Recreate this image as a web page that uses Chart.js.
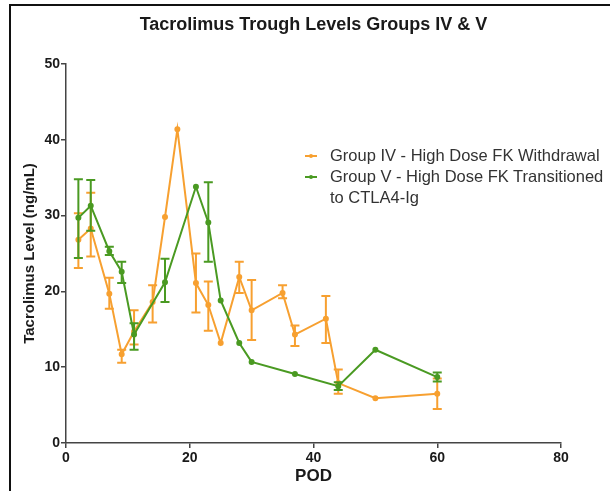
<!DOCTYPE html>
<html>
<head>
<meta charset="utf-8">
<script src="https://cdn.jsdelivr.net/npm/chart.js@4.4.1/dist/chart.umd.min.js"></script>
<style>
  html, body { margin: 0; padding: 0; background: #fff; }
  #wrap { position: relative; width: 610px; height: 491px; overflow: hidden; }
  #frame { position: absolute; left: 9px; top: 4px; width: 620px; height: 500px;
           border-left: 2px solid #111; border-top: 2px solid #111; pointer-events: none; }
  canvas { position: absolute; left: 0; top: 0; }
  #legend { position: absolute; left: 305px; top: 145px; font-family: "Liberation Sans", Arial, sans-serif;
            font-size: 16.5px; line-height: 21px; color: #333; }
  .row { position: relative; padding-left: 25px; white-space: nowrap; }
  .mk { position: absolute; left: 0; top: 10px; width: 12px; height: 2px; }
  .dot { position: absolute; left: 4px; top: -1px; width: 4px; height: 4px; border-radius: 50%; }
</style>
</head>
<body>
<div id="wrap">
  <canvas id="c" width="610" height="491"></canvas>
  <div id="frame"></div>
  <div id="legend">
    <div class="row"><span class="mk" style="background:#F7A030"><span class="dot" style="background:#F7A030"></span></span>Group IV - High Dose FK Withdrawal</div>
    <div class="row"><span class="mk" style="background:#4A9A22"><span class="dot" style="background:#4A9A22"></span></span>Group V - High Dose FK Transitioned<br>to CTLA4-Ig</div>
  </div>
</div>
<script>
// ---- Data ----
const titleText = "Tacrolimus Trough Levels Groups IV & V";
const xTitle = "POD";
const yTitle = "Tacrolimus Level (ng/mL)";
const xTicks = [0, 20, 40, 60, 80];
const yTicks = [0, 10, 20, 30, 40, 50];

const seriesNames = ["Group IV - High Dose FK Withdrawal", "Group V - High Dose FK Transitioned to CTLA4-Ig"];

const podIV   = [2, 4, 7, 9, 11, 14, 16, 18, 21, 23, 25, 28, 30, 35, 37, 42, 44, 50, 60];
const levelIV = [26.8, 28.3, 19.7, 11.7, 14.7, 18.6, 29.8, 41.4, 21.1, 18.2, 13.2, 21.9, 17.5, 19.8, 14.3, 16.4, 7.9, 5.9, 6.5];
const upperIV = [30.3, 33.0, 21.8, 12.3, 17.5, 20.8, null, null, 25.0, 21.3, null, 23.9, 21.5, 20.8, 15.5, 19.4, 9.7, null, 8.5];
const lowerIV = [23.1, 24.6, 17.7, 10.6, 13.0, 15.9, null, null, 17.2, 14.8, null, 19.8, 13.6, 19.1, 12.8, 13.2, 6.5, null, 4.5];

const podV   = [2, 4, 7, 9, 11, 16, 21, 23, 25, 28, 30, 37, 44, 50, 60];
const levelV = [29.7, 31.3, 25.3, 22.6, 14.3, 21.2, 33.8, 29.1, 18.8, 13.2, 10.7, 9.1, 7.5, 12.3, 8.7];
const upperV = [34.8, 34.7, 25.9, 23.9, 15.8, 24.3, null, 34.4, null, null, null, null, 8.0, null, 9.3];
const lowerV = [24.4, 28.0, 24.8, 21.1, 12.3, 18.6, null, 23.9, null, null, null, null, 7.0, null, 8.1];

const colorIV = "#F7A030";
const colorV = "#4A9A22";
const FONT = "'Liberation Sans', Arial, sans-serif";

function toPoints(xs, ys) { return xs.map((x, i) => ({ x: x, y: ys[i] })); }

const errorBars = {
  id: 'errorBars',
  afterDatasetDraw(chart, args) {
    const ds = chart.data.datasets[args.index];
    if (!ds.errHi) return;
    const xs = chart.scales.x, ys = chart.scales.y;
    const ctx = chart.ctx;
    ctx.save();
    ctx.strokeStyle = ds.borderColor;
    ctx.lineWidth = 2;
    ds.data.forEach((p, i) => {
      const hi = ds.errHi[i], lo = ds.errLo[i];
      if (hi == null || lo == null) return;
      const px = xs.getPixelForValue(p.x);
      const yh = ys.getPixelForValue(hi), yl = ys.getPixelForValue(lo);
      ctx.beginPath();
      ctx.moveTo(px, yh); ctx.lineTo(px, yl);
      ctx.moveTo(px - 4.5, yh); ctx.lineTo(px + 4.5, yh);
      ctx.moveTo(px - 4.5, yl); ctx.lineTo(px + 4.5, yl);
      ctx.stroke();
    });
    ctx.restore();
  }
};

const titlePlugin = {
  id: 'titlePlugin',
  afterDraw(chart) {
    const ctx = chart.ctx, a = chart.chartArea;
    ctx.save();
    ctx.fillStyle = '#1a1a1a';
    ctx.font = "bold 18px " + FONT;
    ctx.textAlign = 'center';
    ctx.textBaseline = 'middle';
    ctx.fillText(titleText, (a.left + a.right) / 2, 25);
    ctx.restore();
  }
};

new Chart(document.getElementById('c'), {
  type: 'scatter',
  data: {
    datasets: [
      {
        label: seriesNames[0], data: toPoints(podIV, levelIV), errHi: upperIV, errLo: lowerIV,
        showLine: true, borderColor: colorIV, backgroundColor: colorIV, borderWidth: 2,
        pointRadius: 2, pointHoverRadius: 2, order: 1
      },
      {
        label: seriesNames[1], data: toPoints(podV, levelV), errHi: upperV, errLo: lowerV,
        showLine: true, borderColor: colorV, backgroundColor: colorV, borderWidth: 2,
        pointRadius: 2, pointHoverRadius: 2, order: 0
      }
    ]
  },
  options: {
    responsive: false,
    animation: false,
    events: [],
    layout: { padding: { left: 10, right: 49, top: 64, bottom: 0 } },
    plugins: { legend: { display: false }, tooltip: { enabled: false }, title: { display: false } },
    scales: {
      x: {
        type: 'linear', min: 0, max: 80,
        afterBuildTicks(s) { s.ticks = xTicks.map(v => ({ value: v })); },
        afterFit(s) { s.height = 48; },
        grid: { display: true, drawOnChartArea: false, drawTicks: true, tickLength: 5, color: '#444', lineWidth: 1.5 },
        border: { display: true, color: '#444', width: 1.5 },
        ticks: { color: '#1a1a1a', padding: 2, font: { family: FONT, size: 14, weight: 'bold' } },
        title: { display: true, text: xTitle, color: '#1a1a1a', padding: { top: 2, bottom: 4 },
                 font: { family: FONT, size: 17, weight: 'bold' } }
      },
      y: {
        type: 'linear', min: 0, max: 50,
        afterBuildTicks(s) { s.ticks = yTicks.map(v => ({ value: v })); },
        afterFit(s) { s.width = 56; },
        grid: { display: true, drawOnChartArea: false, drawTicks: true, tickLength: 5, color: '#444', lineWidth: 1.5 },
        border: { display: true, color: '#444', width: 1.5 },
        ticks: { color: '#1a1a1a', padding: 1, font: { family: FONT, size: 14, weight: 'bold' } },
        title: { display: true, text: yTitle, color: '#1a1a1a', padding: { top: 11, bottom: 0 },
                 font: { family: FONT, size: 15, weight: 'bold' } }
      }
    }
  },
  plugins: [errorBars, titlePlugin]
});
</script>
</body>
</html>
